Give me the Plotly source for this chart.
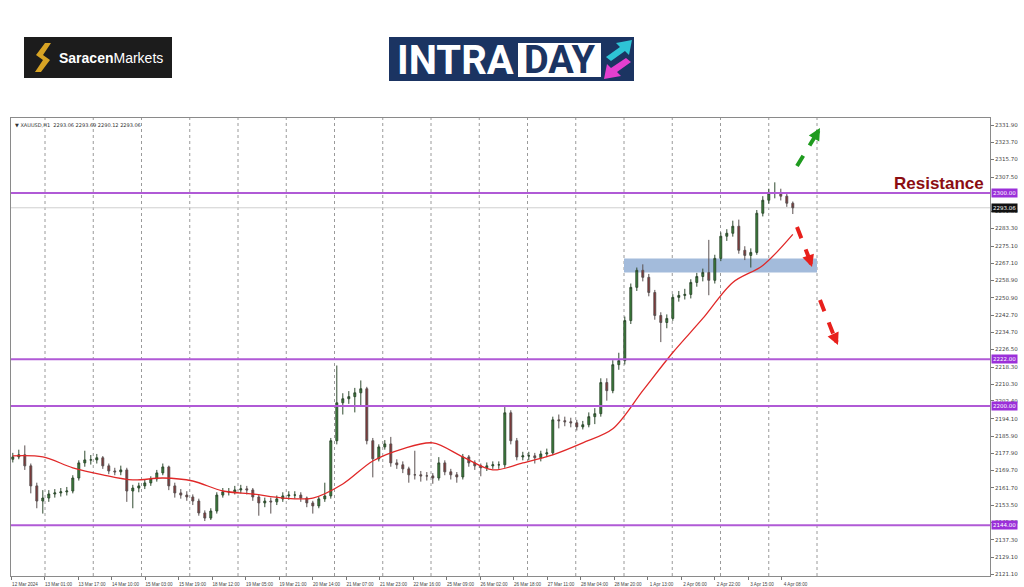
import plotly.graph_objects as go

# ---------------- data ----------------
bar_labels = ["12 Mar 2024", "13 Mar 01:00", "13 Mar 17:00", "14 Mar 10:00", "15 Mar 03:00",
              "15 Mar 19:00", "18 Mar 12:00", "19 Mar 05:00", "19 Mar 21:00", "20 Mar 14:00",
              "21 Mar 07:00", "21 Mar 23:00", "22 Mar 16:00", "25 Mar 09:00", "26 Mar 02:00",
              "26 Mar 18:00", "27 Mar 11:00", "28 Mar 04:00", "28 Mar 20:00", "1 Apr 13:00",
              "2 Apr 06:00", "2 Apr 22:00", "3 Apr 15:00", "4 Apr 08:00"]

y_ticks = [2331.90, 2323.70, 2315.70, 2307.50, 2291.30, 2283.30, 2275.10, 2267.10,
           2258.90, 2250.90, 2242.70, 2234.70, 2226.50, 2218.30, 2210.30, 2202.40, 2194.10,
           2185.90, 2177.90, 2169.70, 2161.70, 2153.50, 2145.50, 2137.30, 2129.10, 2121.10]

opens = [2175.0, 2176.1, 2177.1, 2171.9, 2162.5, 2155.4, 2156.8, 2158.7, 2159.2, 2159.7,
         2160.1, 2166.2, 2173.3, 2174.7, 2174.7, 2175.7, 2171.9, 2169.5, 2169.1, 2170.0,
         2160.1, 2161.5, 2162.5, 2163.9, 2165.8, 2168.6, 2171.4, 2162.5, 2159.2, 2158.2,
         2157.3, 2155.4, 2149.8, 2147.4, 2150.7, 2158.2, 2159.7, 2159.7, 2160.6, 2161.1,
         2160.6, 2157.3, 2154.5, 2155.4, 2155.0, 2156.4, 2157.8, 2158.2, 2158.2, 2156.8,
         2154.5, 2153.1, 2156.4, 2157.8, 2183.7, 2201.5, 2203.4, 2204.4, 2206.2, 2208.1,
         2183.7, 2175.2, 2180.8, 2182.2, 2173.3, 2172.4, 2170.5, 2167.7, 2167.7, 2167.2,
         2167.2, 2166.2, 2173.3, 2169.1, 2167.7, 2166.7, 2176.1, 2173.3, 2171.9, 2171.0,
         2171.9, 2172.4, 2172.4, 2196.8, 2183.7, 2176.1, 2176.6, 2176.6, 2175.7, 2177.5,
         2178.0, 2193.5, 2193.1, 2192.6, 2192.1, 2190.2, 2191.2, 2195.0, 2196.4, 2211.0,
         2207.2, 2219.4, 2221.3, 2240.1, 2255.7, 2263.7, 2260.4, 2253.3, 2242.5, 2239.2,
         2241.1, 2251.0, 2251.9, 2252.4, 2258.0, 2260.8, 2262.7, 2259.0, 2269.3, 2279.7,
         2281.1, 2284.4, 2273.1, 2270.7, 2272.1, 2290.5, 2296.6, 2299.9, 2299.9, 2298.5,
         2295.2]

closes = [2176.1, 2177.1, 2171.9, 2162.5, 2155.4, 2156.8, 2158.7, 2159.2, 2159.7, 2160.1,
          2166.2, 2173.3, 2174.7, 2174.7, 2175.7, 2171.9, 2169.5, 2169.1, 2170.0, 2160.1,
          2161.5, 2162.5, 2163.9, 2165.8, 2168.6, 2171.4, 2162.5, 2159.2, 2158.2, 2157.3,
          2155.4, 2149.8, 2147.4, 2150.7, 2158.2, 2159.7, 2159.7, 2160.6, 2161.1, 2160.6,
          2157.3, 2154.5, 2155.4, 2155.0, 2156.4, 2157.8, 2158.2, 2158.2, 2156.8, 2154.5,
          2153.1, 2156.4, 2157.8, 2183.7, 2201.5, 2203.4, 2204.4, 2206.2, 2208.1, 2183.7,
          2175.2, 2180.8, 2182.2, 2173.3, 2172.4, 2170.5, 2167.7, 2167.7, 2167.2, 2167.2,
          2166.2, 2173.3, 2169.1, 2167.7, 2166.7, 2176.1, 2173.3, 2171.9, 2171.0, 2171.9,
          2172.4, 2172.4, 2196.8, 2183.7, 2176.1, 2176.6, 2176.6, 2175.7, 2177.5, 2178.0,
          2193.5, 2193.1, 2192.6, 2192.1, 2190.2, 2191.2, 2195.0, 2196.4, 2211.0, 2207.2,
          2219.4, 2221.3, 2240.1, 2255.7, 2263.7, 2260.4, 2253.3, 2242.5, 2239.2, 2241.1,
          2251.0, 2251.9, 2252.4, 2258.0, 2260.8, 2262.7, 2259.0, 2269.3, 2279.7, 2281.1,
          2284.4, 2273.1, 2270.7, 2272.1, 2290.5, 2296.6, 2299.9, 2299.9, 2298.5, 2295.2,
          2293.06]

highs = [2178.0, 2179.5, 2181.5, 2173.0, 2164.0, 2160.5, 2160.5, 2161.0, 2161.5, 2162.0,
         2167.5, 2174.5, 2179.0, 2177.0, 2177.5, 2176.5, 2173.0, 2171.0, 2172.0, 2171.0,
         2163.0, 2164.0, 2165.5, 2167.0, 2170.0, 2173.0, 2172.0, 2164.0, 2161.0, 2160.0,
         2158.5, 2156.5, 2151.0, 2152.0, 2159.5, 2161.5, 2161.5, 2162.5, 2163.0, 2162.5,
         2161.5, 2158.5, 2157.0, 2157.0, 2158.0, 2159.5, 2160.0, 2160.0, 2159.5, 2157.5,
         2155.5, 2157.5, 2164.0, 2185.0, 2219.0, 2206.0, 2207.0, 2208.5, 2212.0, 2209.0,
         2185.0, 2182.0, 2184.0, 2185.5, 2175.0, 2174.0, 2171.5, 2179.0, 2169.5, 2169.0,
         2168.5, 2176.0, 2174.5, 2170.5, 2169.0, 2177.5, 2177.0, 2174.5, 2173.0, 2173.5,
         2174.0, 2174.0, 2199.5, 2198.0, 2185.0, 2178.5, 2178.5, 2178.0, 2179.0, 2180.0,
         2195.0, 2196.0, 2195.0, 2194.5, 2193.5, 2193.0, 2197.0, 2199.0, 2213.0, 2213.0,
         2221.5, 2225.0, 2242.0, 2257.5, 2265.0, 2266.5, 2262.0, 2254.5, 2244.0, 2243.0,
         2252.5, 2254.0, 2255.0, 2259.5, 2262.5, 2264.5, 2278.0, 2271.0, 2281.5, 2283.0,
         2287.0, 2287.5, 2275.0, 2274.0, 2292.0, 2298.5, 2302.0, 2305.0, 2302.0, 2299.5,
         2296.0]

lows = [2173.5, 2175.0, 2170.0, 2159.0, 2152.0, 2149.5, 2155.0, 2157.0, 2157.5, 2158.0,
        2159.0, 2165.0, 2171.5, 2172.5, 2173.0, 2170.5, 2168.0, 2167.5, 2167.5, 2155.0,
        2152.0, 2159.5, 2161.0, 2162.5, 2164.5, 2167.5, 2160.5, 2157.0, 2156.5, 2155.5,
        2153.5, 2148.5, 2146.0, 2146.5, 2149.5, 2157.0, 2158.0, 2158.5, 2159.0, 2158.5,
        2155.5, 2148.5, 2152.5, 2149.5, 2153.5, 2155.0, 2156.0, 2156.5, 2155.0, 2152.5,
        2149.5, 2152.0, 2155.0, 2156.5, 2182.0, 2196.0, 2201.0, 2197.0, 2200.0, 2182.0,
        2166.5, 2174.0, 2179.5, 2171.5, 2170.5, 2168.5, 2164.0, 2165.5, 2164.5, 2165.0,
        2163.5, 2165.0, 2167.5, 2165.5, 2164.0, 2165.5, 2171.5, 2170.0, 2167.0, 2169.5,
        2170.5, 2170.5, 2171.0, 2182.0, 2174.5, 2174.5, 2174.5, 2173.0, 2174.0, 2176.0,
        2177.0, 2189.5, 2190.5, 2190.0, 2188.5, 2189.0, 2190.0, 2191.5, 2195.0, 2202.5,
        2206.0, 2217.0, 2219.5, 2238.5, 2254.0, 2258.5, 2251.5, 2240.5, 2230.0, 2236.5,
        2240.0, 2249.0, 2250.0, 2250.5, 2256.0, 2258.5, 2252.0, 2257.5, 2268.0, 2277.5,
        2279.5, 2271.5, 2268.5, 2265.0, 2271.0, 2289.0, 2295.0, 2297.5, 2296.5, 2293.5,
        2290.12]

# moving average, read every 5th bar
ma_bars = list(range(0, 131, 5))
ma_values = [2176.6, 2176.1, 2171.0, 2167.7, 2165.3, 2166.2, 2164.8, 2160.1, 2158.7, 2156.8,
             2156.8, 2163.4, 2174.2, 2179.9, 2182.7, 2176.1, 2170.0, 2173.3, 2177.1, 2182.7,
             2189.3, 2207.2, 2225.1, 2241.1, 2258.0, 2266.0, 2280.6]

levels = [2300.00, 2222.00, 2200.00, 2144.00]
current_price = 2293.06
demand_zone = [2262.7, 2269.3]
header_text = "\u25BC XAUUSD,H1  2293.06 2293.69 2290.12 2293.06"

# ---------------- layout geometry ----------------
W, H = 1024, 587
PL, PR, PT, PB = 11, 990, 118, 576
BAR_PX = 6.0
X0 = -0.3
x_range = [X0, X0 + (PR - PL) / BAR_PX]
y_range = [2120.2, 2335.2]


def pxx(px):
    return (px - PL) / (PR - PL)


def pxy(py):
    return (PB - py) / (PB - PT)


def ix(px):
    return X0 + (px - PL) / BAR_PX


bars = list(range(len(closes)))

fig = go.Figure()
fig.add_trace(go.Candlestick(
    x=bars, open=opens, high=highs, low=lows, close=closes,
    increasing=dict(line=dict(color="#2f4a2f", width=1), fillcolor="#3a8a3a"),
    decreasing=dict(line=dict(color="#5a5050", width=1), fillcolor="#8a2e2e"),
    whiskerwidth=0, hoverinfo="skip", showlegend=False))

fig.add_trace(go.Scatter(
    x=ma_bars, y=ma_values, mode="lines",
    line=dict(color="#e02828", width=1.3, shape="spline", smoothing=0.9),
    hoverinfo="skip", showlegend=False))

shapes = []
# dotted vertical grid
for k in range(17):
    gx = pxx(45 + 48.25 * k)
    shapes.append(dict(type="line", xref="paper", yref="paper", x0=gx, x1=gx, y0=0, y1=1,
                       line=dict(color="#9a9a9a", width=1, dash="dot"), layer="below"))
# demand zone
shapes.append(dict(type="rect", xref="paper", yref="y", x0=pxx(624), x1=pxx(817),
                   y0=demand_zone[0], y1=demand_zone[1],
                   fillcolor="#a3bbdb", line=dict(width=0), layer="below"))
# current price line
shapes.append(dict(type="line", xref="paper", yref="y", x0=0, x1=1,
                   y0=current_price, y1=current_price,
                   line=dict(color="#cfcfcf", width=1), layer="below"))
# purple levels
for lv in levels:
    shapes.append(dict(type="line", xref="paper", yref="y", x0=0, x1=1, y0=lv, y1=lv,
                       line=dict(color="#b05ad6", width=2), layer="above"))

# dashed arrows shafts
arrow_specs = [
    ((797, 166), (816, 135), (820, 128), "#1f9b1f"),
    ((797, 227), (809, 258), (812, 267), "#e8201c"),
    ((820, 300), (834, 336), (838, 345), "#e8201c"),
]
for (sx, sy), (ex, ey), _, col in arrow_specs:
    shapes.append(dict(type="line", xref="paper", yref="paper",
                       x0=pxx(sx), y0=pxy(sy), x1=pxx(ex), y1=pxy(ey),
                       line=dict(color=col, width=4, dash="dash")))


def poly(points):
    d = "M " + " L ".join(f"{pxx(a):.5f},{pxy(b):.5f}" for a, b in points) + " Z"
    return d


# Saracen logo
shapes.append(dict(type="rect", xref="paper", yref="paper", x0=pxx(24), x1=pxx(172),
                   y0=pxy(78), y1=pxy(37), fillcolor="#1c1c1c", line=dict(width=0)))
shapes.append(dict(type="path", xref="paper", yref="paper",
                   path=poly([(45, 43), (51, 43), (43, 55), (50, 60), (41, 72), (35, 72),
                              (43, 60), (36, 55)]),
                   fillcolor="#d8a424", line=dict(width=0)))
# INTRADAY logo
shapes.append(dict(type="rect", xref="paper", yref="paper", x0=pxx(389), x1=pxx(634),
                   y0=pxy(81), y1=pxy(37), fillcolor="#1b3462", line=dict(width=0)))
shapes.append(dict(type="rect", xref="paper", yref="paper", x0=pxx(518), x1=pxx(601),
                   y0=pxy(77), y1=pxy(43), fillcolor="#ffffff", line=dict(width=0)))
shapes.append(dict(type="path", xref="paper", yref="paper",
                   path=poly([(606, 57), (620, 47), (616, 43), (632, 40), (629, 55),
                              (625, 51), (611, 61)]),
                   fillcolor="#2ec4d6", line=dict(width=0)))
shapes.append(dict(type="path", xref="paper", yref="paper",
                   path=poly([(631, 62), (617, 72), (621, 76), (604, 79), (607, 64),
                              (611, 68), (626, 58)]),
                   fillcolor="#e43fcf", line=dict(width=0)))

annotations = []
# arrow heads
for _, (ex, ey), (hx, hy), col in arrow_specs:
    annotations.append(dict(xref="paper", yref="paper", x=pxx(hx), y=pxy(hy),
                            ax=ex - hx, ay=ey - hy, text="", showarrow=True,
                            arrowhead=2, arrowsize=0.6, arrowwidth=4, arrowcolor=col))
# level price tags
for lv in levels:
    annotations.append(dict(xref="paper", yref="y", x=1.0, y=lv, xanchor="left",
                            xshift=1, text=f"{lv:.2f}", showarrow=False,
                            bgcolor="#9b30d9", font=dict(color="white", size=5.5,
                                                         family="DejaVu Sans"),
                            borderpad=1))
annotations.append(dict(xref="paper", yref="y", x=1.0, y=current_price, xanchor="left",
                        xshift=1, text=f"{current_price:.2f}", showarrow=False,
                        bgcolor="#111111", font=dict(color="white", size=5.5,
                                                     family="DejaVu Sans"),
                        borderpad=1))
# Resistance label
annotations.append(dict(xref="paper", yref="paper", x=pxx(986), y=pxy(183),
                        xanchor="right", yanchor="middle", text="<b>Resistance</b>",
                        showarrow=False,
                        font=dict(color="#8b0d12", size=17, family="Liberation Sans")))
# header
annotations.append(dict(xref="paper", yref="paper", x=pxx(13), y=pxy(120),
                        xanchor="left", yanchor="top", text=header_text, showarrow=False,
                        font=dict(color="#333333", size=5, family="DejaVu Sans")))
# logos text
annotations.append(dict(xref="paper", yref="paper", x=pxx(111), y=pxy(58),
                        xanchor="center", yanchor="middle",
                        text="<b>Saracen</b>Markets", showarrow=False,
                        font=dict(color="white", size=14, family="Liberation Sans")))
annotations.append(dict(xref="paper", yref="paper", x=pxx(395), y=pxy(60),
                        xanchor="left", yanchor="middle", text="<b>INTRA</b>",
                        showarrow=False,
                        font=dict(color="white", size=40, family="Roboto")))
annotations.append(dict(xref="paper", yref="paper", x=pxx(559.5), y=pxy(60),
                        xanchor="center", yanchor="middle", text="<b>DAY</b>",
                        showarrow=False,
                        font=dict(color="#1b3462", size=38, family="Roboto")))

tick_vals = [ix(11 + 33.5 * k) for k in range(len(bar_labels))]

fig.update_layout(
    width=W, height=H,
    margin=dict(l=PL, r=W - PR, t=PT, b=H - PB, autoexpand=False),
    paper_bgcolor="white", plot_bgcolor="white",
    showlegend=False, boxgap=0.55,
    shapes=shapes, annotations=annotations,
    xaxis=dict(range=x_range, rangeslider=dict(visible=False), showgrid=False,
               zeroline=False, showline=True, linecolor="#8a8a8a", linewidth=1, mirror=True,
               automargin=False, tickangle=0,
               tickmode="array", tickvals=tick_vals, ticktext=bar_labels,
               ticks="outside", ticklen=3, tickcolor="#777777", ticklabelshift=14,
               tickfont=dict(size=4.6, color="#444444", family="Liberation Sans")),
    yaxis=dict(range=y_range, side="right", showgrid=False, zeroline=False,
               showline=True, linecolor="#8a8a8a", linewidth=1, mirror=True,
               automargin=False,
               tickmode="array", tickvals=y_ticks, ticktext=[f"{v:.2f}" for v in y_ticks],
               ticks="outside", ticklen=3, tickcolor="#777777",
               tickfont=dict(size=5.5, color="#444444", family="DejaVu Sans")),
)

fig.write_html("out.html", config={"displayModeBar": False},
               post_script="document.body.style.margin='0';"
                           "document.body.style.overflow='hidden';")
